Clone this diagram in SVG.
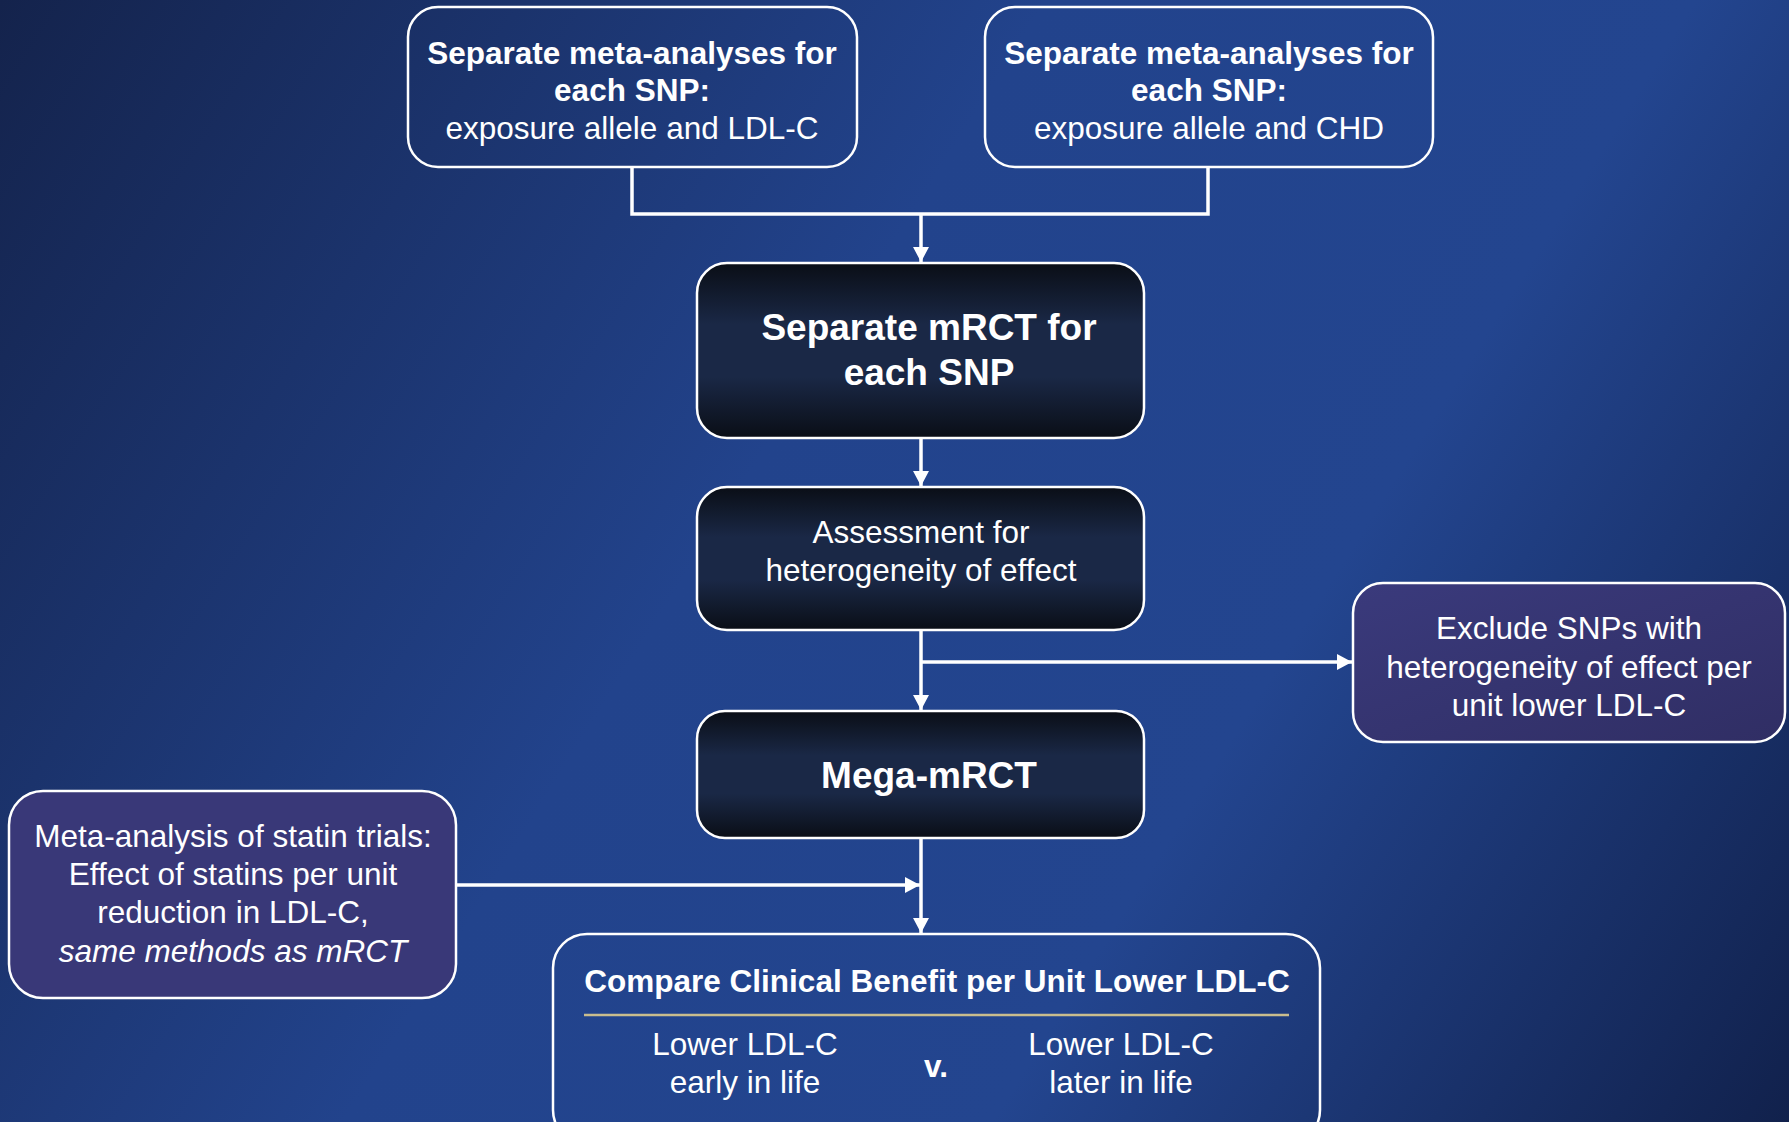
<svg xmlns="http://www.w3.org/2000/svg" width="1789" height="1122" viewBox="0 0 1789 1122">
<defs>
<linearGradient id="bg" x1="0" y1="0" x2="1789" y2="1122" gradientUnits="userSpaceOnUse">
<stop offset="0" stop-color="#14234c"/>
<stop offset="0.42" stop-color="#22438c"/>
<stop offset="0.68" stop-color="#23458f"/>
<stop offset="1" stop-color="#11214c"/>
</linearGradient>
<linearGradient id="dark" x1="0" y1="0" x2="0" y2="1">
<stop offset="0" stop-color="#0a0e16"/>
<stop offset="0.35" stop-color="#1a2846"/>
<stop offset="0.65" stop-color="#1a2846"/>
<stop offset="1" stop-color="#0a0e16"/>
</linearGradient>
<linearGradient id="purple" x1="0" y1="0" x2="1" y2="1">
<stop offset="0" stop-color="#3a3a7c"/>
<stop offset="1" stop-color="#302e64"/>
</linearGradient>
<marker id="ah" markerWidth="16" markerHeight="16" refX="15" refY="8" orient="auto" markerUnits="userSpaceOnUse">
<path d="M0,0 L15,8 L0,16 z" fill="#ffffff"/>
</marker>
<style>
.box{stroke:#ffffff;stroke-width:2.5}
.clear{fill:none}
.dk{fill:url(#dark)}
.pu{fill:url(#purple)}
.t{font-family:"Liberation Sans",Arial,sans-serif;fill:#ffffff;text-anchor:middle;font-size:31.5px}
.b{font-weight:bold}
.big{font-size:37px;font-weight:bold}
.ln{stroke:#ffffff;stroke-width:3.5;fill:none}
</style>
</defs>
<rect x="0" y="0" width="1789" height="1122" fill="url(#bg)"/>

<g id="connectors">
<path class="ln" d="M632,167 V214 H1208 V167"/>
<path class="ln" d="M921,214 V262" marker-end="url(#ah)"/>
<path class="ln" d="M921,438 V486" marker-end="url(#ah)"/>
<path class="ln" d="M921,630 V710" marker-end="url(#ah)"/>
<path class="ln" d="M921,662 H1352" marker-end="url(#ah)"/>
<path class="ln" d="M456,885 H920" marker-end="url(#ah)"/>
<path class="ln" d="M921,838 V933" marker-end="url(#ah)"/>
</g>

<g id="node-meta-ldl">
<rect class="box clear" x="408" y="7" width="449" height="160" rx="30"/>
<text class="t b" x="632" y="64">Separate meta-analyses for</text>
<text class="t b" x="632" y="101">each SNP:</text>
<text class="t" x="632" y="139">exposure allele and LDL-C</text>
</g>

<g id="node-meta-chd">
<rect class="box clear" x="985" y="7" width="448" height="160" rx="30"/>
<text class="t b" x="1209" y="64">Separate meta-analyses for</text>
<text class="t b" x="1209" y="101">each SNP:</text>
<text class="t" x="1209" y="139">exposure allele and CHD</text>
</g>

<g id="node-mrct">
<rect class="box dk" x="697" y="263" width="447" height="175" rx="30"/>
<text class="t big" x="929" y="340">Separate mRCT for</text>
<text class="t big" x="929" y="385">each SNP</text>
</g>

<g id="node-assessment">
<rect class="box dk" x="697" y="487" width="447" height="143" rx="30"/>
<text class="t" x="921" y="543">Assessment for</text>
<text class="t" x="921" y="581">heterogeneity of effect</text>
</g>

<g id="node-exclude">
<rect class="box pu" x="1353" y="583" width="432" height="159" rx="30"/>
<text class="t" x="1569" y="639">Exclude SNPs with</text>
<text class="t" x="1569" y="678">heterogeneity of effect per</text>
<text class="t" x="1569" y="716">unit lower LDL-C</text>
</g>

<g id="node-mega">
<rect class="box dk" x="697" y="711" width="447" height="127" rx="28"/>
<text class="t big" x="929" y="788">Mega-mRCT</text>
</g>

<g id="node-statin">
<rect class="box" fill="#393878" x="9" y="791" width="447" height="207" rx="34"/>
<text class="t" x="233" y="847">Meta-analysis of statin trials:</text>
<text class="t" x="233" y="885">Effect of statins per unit</text>
<text class="t" x="233" y="923">reduction in LDL-C,</text>
<text class="t" x="233" y="962" font-style="italic">same methods as mRCT</text>
</g>

<g id="node-compare">
<rect class="box clear" x="553" y="934" width="767" height="210" rx="34"/>
<text class="t b" x="937" y="992">Compare Clinical Benefit per Unit Lower LDL-C</text>
<line x1="584" y1="1015" x2="1289" y2="1015" stroke="#c9bd8e" stroke-width="2.5"/>
<text class="t" x="745" y="1055">Lower LDL-C</text>
<text class="t" x="745" y="1093">early in life</text>
<text class="t b" x="936" y="1077">v.</text>
<text class="t" x="1121" y="1055">Lower LDL-C</text>
<text class="t" x="1121" y="1093">later in life</text>
</g>
</svg>
